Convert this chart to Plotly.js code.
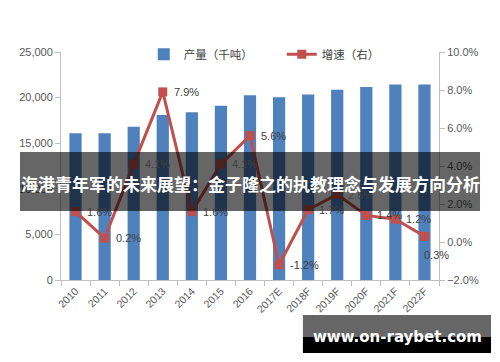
<!DOCTYPE html>
<html>
<head>
<meta charset="utf-8">
<script src="https://cdn.plot.ly/plotly-3.0.1.min.js"></script>
<style>html,body{margin:0;padding:0;background:#fff;}#chart{width:500px;height:362px;}</style>
</head>
<body>
<div id="chart"></div>
<script>
const categories = ['2010','2011','2012','2013','2014','2015','2016','2017E','2018F','2019F','2020F','2021F','2022F'];
const output = [16100,16100,16800,18100,18400,19100,20250,20050,20350,20850,21150,21450,21450];
const growth = [1.6,0.2,4.1,7.9,1.6,4.1,5.6,-1.2,1.7,2.5,1.4,1.2,0.3];
const barName = '产量（千吨）';
const lineName = '增速（右）';
const bannerText = '海港青年军的未来展望：金子隆之的执教理念与发展方向分析';
const watermark = 'www.on-raybet.com';

const font = 'Liberation Sans, Arial, Noto Sans CJK SC, sans-serif';
const cjk = 'Noto Sans CJK SC, Liberation Sans, sans-serif';

const traces = [
  {type:'bar', x:categories, y:output, name:barName, marker:{color:'#4F81BD'}, yaxis:'y'},
  {type:'scatter', mode:'lines+markers', x:categories, y:growth, name:lineName, yaxis:'y2',
   line:{color:'#C0504D', width:3}, marker:{symbol:'square', size:9, color:'#C0504D'}, cliponaxis:false}
];

// category axis: annotation x uses the category's serial index
const labelAnns = growth.map((v,i)=>{
  const below = (i === growth.length-1);
  return {x:i, y:v, xref:'x', yref:'y2', showarrow:false,
    text:v.toFixed(1)+'%', xanchor:'left', yanchor:'middle',
    xshift: below ? -2 : 9, yshift: below ? -19 : 0,
    font:{family:font, size:11, color:'#404040'}};
});

const layout = {
  width:500, height:362,
  margin:{l:61, r:61, t:52, b:82},
  paper_bgcolor:'#fff', plot_bgcolor:'#fff',
  font:{family:font, size:11, color:'#595959'},
  bargap:0.58,
  showlegend:true,
  legend:{orientation:'h', x:0.219, xanchor:'left', y:0.99, yanchor:'middle',
          font:{family:cjk, size:11.5, color:'#404040'}, bgcolor:'rgba(0,0,0,0)', itemwidth:30,
          entrywidth:93, entrywidthmode:'pixels'},
  xaxis:{type:'category', range:[-0.5, categories.length-0.5], autorange:false,
         showline:true, linecolor:'#BFBFBF', linewidth:1, ticks:'outside', ticklen:5,
         tickcolor:'#BFBFBF', tickson:'boundaries', tickangle:-45, tickfont:{size:10.5, color:'#595959'}, showgrid:false},
  yaxis:{range:[0,25000], dtick:5000, tickformat:',d', showline:true, linecolor:'#BFBFBF', ticks:'outside',
         ticklen:5, tickcolor:'#BFBFBF', showgrid:false, zeroline:false, tickfont:{size:11,color:'#595959'}},
  yaxis2:{range:[-2,10], dtick:2, overlaying:'y', side:'right', tickformat:'.1f', ticksuffix:'%',
          showline:true, linecolor:'#BFBFBF', ticks:'outside', ticklen:5, tickcolor:'#BFBFBF',
          showgrid:false, zeroline:false, tickfont:{size:11,color:'#595959'}},
  shapes:[
    {type:'rect', xref:'paper', yref:'paper', x0:-0.1085, x1:1.1085, y0:0.3026, y1:0.5614,
     fillcolor:'rgba(0,0,0,0.6)', line:{width:0}, layer:'above'},
    {type:'rect', xref:'paper', yref:'paper', x0:0.640, x1:1.1376, y0:-0.2500, y1:-0.1535,
     fillcolor:'rgba(0,0,0,0.6)', line:{width:0}, layer:'above'},
    {type:'rect', xref:'paper', yref:'paper', x0:0.640, x1:1.1376, y0:-0.3202, y1:-0.2500,
     fillcolor:'#000', line:{width:0}, layer:'above'}
  ],
  annotations: labelAnns.concat([
    {xref:'paper', yref:'paper', x:0.5, y:0.425, xanchor:'center', yanchor:'middle', showarrow:false,
     text:'<b>'+bannerText+'</b>', font:{family:cjk, size:17, color:'#fff'}},
    {xref:'paper', yref:'paper', x:0.889, y:-0.250, xanchor:'center', yanchor:'middle', showarrow:false,
     text:'<b>'+watermark+'</b>', font:{family:'DejaVu Sans, sans-serif', size:15, color:'#fff'}}
  ])
};

Plotly.newPlot('chart', traces, layout, {displayModeBar:false, staticPlot:true});
</script>
</body>
</html>
